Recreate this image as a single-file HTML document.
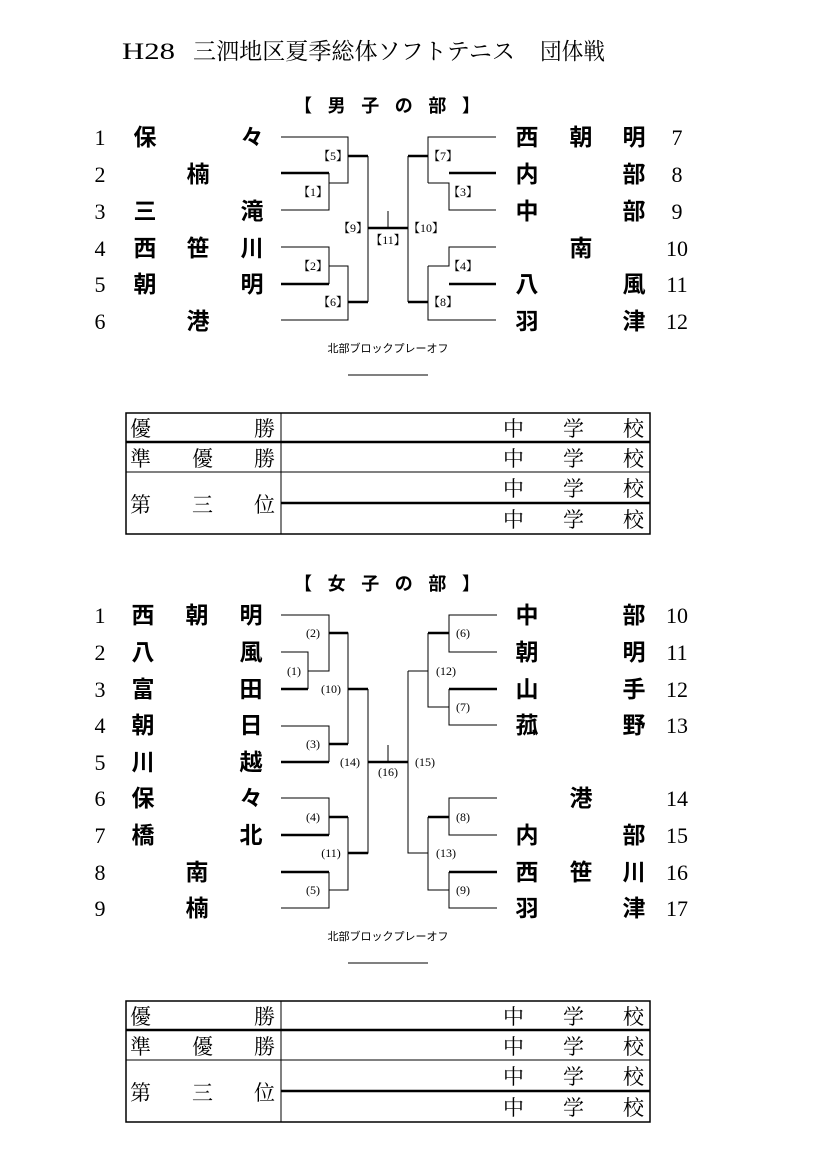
<!DOCTYPE html>
<html><head><meta charset="utf-8"><style>
html,body{margin:0;padding:0;background:#fff}
svg{display:block}
.t{font-family:"Liberation Serif","Noto Serif CJK SC",serif;font-size:23px}
.n{font-family:"Liberation Serif",serif;font-size:22px}
.c{font-family:"Liberation Sans","Noto Sans CJK JP",sans-serif;font-size:23px;font-weight:700}
.h{font-family:"Liberation Sans","Noto Sans CJK JP",sans-serif;font-size:18px;font-weight:700}
.l{font-family:"Liberation Serif","Noto Serif CJK SC",serif;font-size:12px}
.s{font-family:"Liberation Sans","Noto Sans CJK JP",sans-serif;font-size:11px}
.tb{font-family:"Liberation Serif","Noto Serif CJK SC",serif;font-size:21px}
</style></head><body>
<svg width="826" height="1169" viewBox="0 0 826 1169" xmlns="http://www.w3.org/2000/svg">
<text class="t" x="122" y="59" textLength="53" lengthAdjust="spacingAndGlyphs">H28</text>
<text class="t" x="193" y="59" textLength="322" lengthAdjust="spacingAndGlyphs">三泗地区夏季総体ソフトテニス</text>
<text class="t" x="540" y="59" textLength="65" lengthAdjust="spacingAndGlyphs">団体戦</text>
<text class="h" x="294" y="112" textLength="186" lengthAdjust="spacing">【 男 子 の 部 】</text>
<text class="h" x="294" y="590" textLength="186" lengthAdjust="spacing">【 女 子 の 部 】</text>

<g stroke="#000" fill="none" stroke-width="1">
<path d="M281 137H348V183H329M281 210H329V173M281 247H329V284M329 266H348V320H281M368 156V302"/>
<path d="M428 183H449V210H496M496 137H428V183M428 266H449V247H496M496 320H428V266M408 156V302M388 211V228"/>
</g>
<g stroke="#000" fill="none" stroke-width="2.5">
<path d="M281 173H329M348 156H368M281 284H329M348 302H368M368 228H408M408 156H428M449 173H496M449 284H496M408 302H428"/>
</g>
<g stroke="#000" fill="none" stroke-width="1">
<path d="M281 615H329V671H308M281 652H308V689M329 633H348V744M281 726H329V762M368 689V853H348M281 798H329V835M348 817V890H329M281 908H329V872M388 745V762"/>
<path d="M408 671H428M408 671V853H428M428 633V707H449M497 615H449V652H497M449 689V725H497M428 817V890H449M497 798H449V835H497M449 872V908H497"/>
</g>
<g stroke="#000" fill="none" stroke-width="2.5">
<path d="M281 689H308M329 633H348M281 762H329M329 744H348M348 689H368M281 835H329M329 817H348M281 872H329M348 853H368M368 762H408M428 633H449M449 689H497M428 817H449M449 872H497"/>
</g>

<g class="l" text-anchor="middle">
<text x="333" y="160">【5】</text><text x="313" y="196">【1】</text><text x="353" y="232">【9】</text>
<text x="388" y="244">【11】</text><text x="426" y="232">【10】</text><text x="443" y="160">【7】</text>
<text x="463" y="196">【3】</text><text x="313" y="270">【2】</text><text x="333" y="306">【6】</text>
<text x="463" y="270">【4】</text><text x="443" y="306">【8】</text>
<text x="313" y="637">(2)</text><text x="294" y="675">(1)</text><text x="331" y="693">(10)</text>
<text x="313" y="748">(3)</text><text x="350" y="766">(14)</text><text x="388" y="776">(16)</text>
<text x="425" y="766">(15)</text><text x="463" y="637">(6)</text><text x="446" y="675">(12)</text>
<text x="463" y="711">(7)</text><text x="313" y="821">(4)</text><text x="331" y="857">(11)</text>
<text x="313" y="894">(5)</text><text x="463" y="821">(8)</text><text x="446" y="857">(13)</text>
<text x="463" y="894">(9)</text>
</g>
<text class="s" x="388" y="352" text-anchor="middle">北部ブロックプレーオフ</text>
<line x1="348" y1="375" x2="428" y2="375" stroke="#000"/>
<text class="s" x="388" y="940" text-anchor="middle">北部ブロックプレーオフ</text>
<line x1="348" y1="963" x2="428" y2="963" stroke="#000"/>

<g class="n" text-anchor="middle">
<text x="100" y="145">1</text><text x="100" y="182">2</text><text x="100" y="219">3</text><text x="100" y="256">4</text><text x="100" y="292">5</text><text x="100" y="329">6</text>
<text x="677" y="145">7</text><text x="677" y="182">8</text><text x="677" y="219">9</text><text x="677" y="256">10</text><text x="677" y="292">11</text><text x="677" y="329">12</text>
<text x="100" y="623">1</text><text x="100" y="660">2</text><text x="100" y="697">3</text><text x="100" y="733">4</text><text x="100" y="770">5</text><text x="100" y="806">6</text><text x="100" y="843">7</text><text x="100" y="880">8</text><text x="100" y="916">9</text>
<text x="677" y="623">10</text><text x="677" y="660">11</text><text x="677" y="697">12</text><text x="677" y="733">13</text><text x="677" y="806">14</text><text x="677" y="843">15</text><text x="677" y="880">16</text><text x="677" y="916">17</text>
</g>
<g class="c" text-anchor="middle">
<text x="145" y="145">保</text><text x="252" y="145">々</text>
<text x="198" y="182">楠</text>
<text x="145" y="219">三</text><text x="252" y="219">滝</text>
<text x="145" y="256">西</text><text x="198" y="256">笹</text><text x="252" y="256">川</text>
<text x="145" y="292">朝</text><text x="252" y="292">明</text>
<text x="198" y="329">港</text>
<text x="527" y="145">西</text><text x="581" y="145">朝</text><text x="634" y="145">明</text>
<text x="527" y="182">内</text><text x="634" y="182">部</text>
<text x="527" y="219">中</text><text x="634" y="219">部</text>
<text x="581" y="256">南</text>
<text x="527" y="292">八</text><text x="634" y="292">風</text>
<text x="527" y="329">羽</text><text x="634" y="329">津</text>

<text x="143" y="623">西</text><text x="197" y="623">朝</text><text x="251" y="623">明</text>
<text x="143" y="660">八</text><text x="251" y="660">風</text>
<text x="143" y="697">富</text><text x="251" y="697">田</text>
<text x="143" y="733">朝</text><text x="251" y="733">日</text>
<text x="143" y="770">川</text><text x="251" y="770">越</text>
<text x="143" y="806">保</text><text x="251" y="806">々</text>
<text x="143" y="843">橋</text><text x="251" y="843">北</text>
<text x="197" y="880">南</text>
<text x="197" y="916">楠</text>
<text x="527" y="623">中</text><text x="634" y="623">部</text>
<text x="527" y="660">朝</text><text x="634" y="660">明</text>
<text x="527" y="697">山</text><text x="634" y="697">手</text>
<text x="527" y="733">菰</text><text x="634" y="733">野</text>
<text x="581" y="806">港</text>
<text x="527" y="843">内</text><text x="634" y="843">部</text>
<text x="527" y="880">西</text><text x="581" y="880">笹</text><text x="634" y="880">川</text>
<text x="527" y="916">羽</text><text x="634" y="916">津</text>
</g>

<g id="tb1">
<rect x="126" y="413" width="524" height="121" fill="none" stroke="#000" stroke-width="1.5"/>
<line x1="281" y1="413" x2="281" y2="534" stroke="#000"/>
<line x1="126" y1="442" x2="650" y2="442" stroke="#000" stroke-width="2.5"/>
<line x1="126" y1="472" x2="650" y2="472" stroke="#000"/>
<line x1="281" y1="503" x2="650" y2="503" stroke="#000" stroke-width="2.5"/>
<g class="tb">
<text x="130" y="436">優</text><text x="254" y="436">勝</text>
<text x="130" y="466">準</text><text x="192" y="466">優</text><text x="254" y="466">勝</text>
<text x="130" y="512">第</text><text x="192" y="512">三</text><text x="254" y="512">位</text>
<text x="503" y="436">中</text><text x="563" y="436">学</text><text x="623" y="436">校</text>
<text x="503" y="466">中</text><text x="563" y="466">学</text><text x="623" y="466">校</text>
<text x="503" y="496">中</text><text x="563" y="496">学</text><text x="623" y="496">校</text>
<text x="503" y="527">中</text><text x="563" y="527">学</text><text x="623" y="527">校</text>
</g>
</g>
<use href="#tb1" transform="translate(0,588)"/>
</svg>
</body></html>
